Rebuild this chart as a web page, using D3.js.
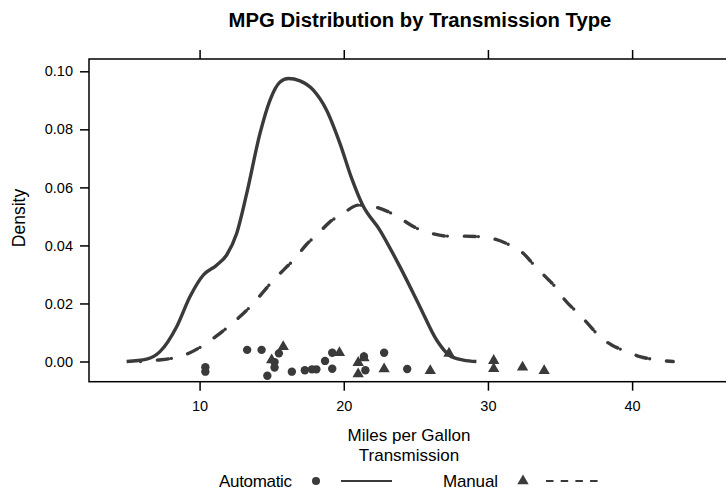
<!DOCTYPE html>
<html>
<head>
<meta charset="utf-8">
<script src="https://cdn.jsdelivr.net/npm/d3@7"></script>
<style>
  body { margin: 0; background: #fff; }
  text { font-family: "Liberation Sans", Arial, sans-serif; }
</style>
</head>
<body>
<svg id="chart" width="726" height="490"></svg>
<script>
// mpg values, as plotted under the curves
let autoMpg   = [21.4, 18.7, 18.1, 14.3, 24.4, 22.8, 19.2, 17.8, 16.4, 17.3, 15.2, 10.4, 10.4, 14.7, 21.5, 15.5, 15.2, 13.3, 19.2];
let autoJit   = [0.0017, 0.0002, -0.0027, 0.0040, -0.0026, 0.0030, 0.0030, -0.0027, -0.0035, -0.0030, -0.0002, -0.0020, -0.0035, -0.0049, -0.0030, 0.0028, -0.0021, 0.0040, -0.0025];
let manualMpg = [21.0, 21.0, 22.8, 32.4, 30.4, 33.9, 27.3, 26.0, 30.4, 15.8, 19.7, 15.0, 21.4];
let manualJit = [-0.0004, -0.0043, -0.0026, -0.0020, 0.0003, -0.0032, 0.0028, -0.0032, -0.0025, 0.0051, 0.0030, 0.0005, 0.0012];

// density curves
let autoCurveX = [4.94, 6.33, 7.25, 8.41, 9.33, 10.26, 11.18, 11.88, 12.57, 13.27, 14.19, 14.88, 15.58, 16.15, 16.96, 17.89, 18.81, 19.74, 20.55, 21.3, 22.5, 23.9, 25.28, 26.44, 27.36, 28.3, 29.2];
let autoCurveY = [0.0, 0.0008, 0.0034, 0.012, 0.0223, 0.0298, 0.0332, 0.0367, 0.0441, 0.0579, 0.0786, 0.090, 0.0963, 0.0975, 0.0967, 0.0935, 0.0866, 0.0751, 0.0631, 0.054, 0.0453, 0.0326, 0.0189, 0.0074, 0.0020, 0.0005, 0.0];
let manualCurveX = [5.9, 7.1, 8.07, 9.33, 10.2, 11.18, 11.99, 12.92, 13.61, 14.42, 15.11, 15.92, 16.62, 17.43, 18.23, 19.04, 19.96, 21.0, 21.93, 23.09, 24.01, 25.06, 25.98, 27.25, 28.17, 29.45, 30.37, 31.53, 32.34, 33.26, 33.95, 34.76, 35.34, 36.26, 36.96, 37.77, 38.58, 39.62, 40.54, 41.81, 42.85];
let manualCurveY = [0.0, 0.0005, 0.0011, 0.003, 0.0054, 0.0088, 0.012, 0.016, 0.0194, 0.024, 0.028, 0.032, 0.0355, 0.0404, 0.0441, 0.0481, 0.051, 0.0539, 0.0535, 0.0516, 0.049, 0.0459, 0.0443, 0.0432, 0.0432, 0.0430, 0.0423, 0.0401, 0.0378, 0.0329, 0.0294, 0.0252, 0.0212, 0.0166, 0.0129, 0.0085, 0.0057, 0.0034, 0.0017, 0.0005, 0.0];

let xTicks = [10, 20, 30, 40];
let yTicks = [0.00, 0.02, 0.04, 0.06, 0.08, 0.10];
let groups = ['Automatic', 'Manual'];

let ink = '#3a3a3a';
let svg = d3.select('#chart');

let pLeft = 89, pRight = 729, pTop = 59, pBottom = 381.7;
let x = d3.scaleLinear().domain([2.33, 46.72]).range([pLeft, pRight]);
let y = d3.scaleLinear().domain([0, 0.10]).range([361.5, 71.3]);

// title
svg.append('text')
    .attr('x', 420).attr('y', 27)
    .attr('text-anchor', 'middle')
    .attr('font-size', 20.3)
    .attr('font-weight', 'bold')
    .text('MPG Distribution by Transmission Type');

// axes
let bottomAxis = svg.append('g')
    .attr('transform', 'translate(0,' + pBottom + ')')
    .call(d3.axisBottom(x).tickValues(xTicks).tickSize(9).tickPadding(10).tickSizeOuter(0));
let topAxis = svg.append('g')
    .attr('transform', 'translate(0,' + pTop + ')')
    .call(d3.axisTop(x).tickValues(xTicks).tickSize(9).tickFormat('').tickSizeOuter(0));
let leftAxis = svg.append('g')
    .attr('transform', 'translate(' + pLeft + ',0)')
    .call(d3.axisLeft(y).tickValues(yTicks).tickFormat(d3.format('.2f')).tickSize(9).tickPadding(7).tickSizeOuter(0));

[bottomAxis, topAxis, leftAxis].forEach((g) => {
    g.select('.domain').remove();
    g.selectAll('line').attr('stroke', '#000').attr('stroke-width', 1.5);
    g.selectAll('text')
        .attr('font-size', 14.5)
        .attr('fill', '#000')
        .style('font-family', '"Liberation Sans", Arial, sans-serif');
});

svg.append('rect')
    .attr('x', pLeft).attr('y', pTop)
    .attr('width', pRight - pLeft).attr('height', pBottom - pTop)
    .attr('fill', 'none')
    .attr('stroke', '#000')
    .attr('stroke-width', 1.5);

// axis labels
svg.append('text')
    .attr('transform', 'translate(25,218) rotate(-90)')
    .attr('text-anchor', 'middle')
    .attr('font-size', 17.5)
    .text('Density');
svg.append('text')
    .attr('x', 409).attr('y', 441)
    .attr('text-anchor', 'middle')
    .attr('font-size', 17)
    .text('Miles per Gallon');
svg.append('text')
    .attr('x', 409).attr('y', 461)
    .attr('text-anchor', 'middle')
    .attr('font-size', 17)
    .text('Transmission');

// curves
let line = d3.line()
    .x((d) => { return x(d[0]); })
    .y((d) => { return y(d[1]); })
    .curve(d3.curveMonotoneX);

let plot = svg.append('g');
plot.append('path')
    .datum(d3.zip(autoCurveX, autoCurveY))
    .attr('d', line)
    .attr('fill', 'none')
    .attr('stroke', ink)
    .attr('stroke-width', 3.4);
plot.append('path')
    .datum(d3.zip(manualCurveX, manualCurveY))
    .attr('d', line)
    .attr('fill', 'none')
    .attr('stroke', ink)
    .attr('stroke-width', 3.4)
    .attr('stroke-linecap', 'round')
    .attr('stroke-dasharray', '0,17,11,3');

// points
plot.selectAll('circle.auto')
    .data(d3.zip(autoMpg, autoJit))
    .enter()
    .append('circle')
    .attr('class', 'auto')
    .attr('cx', (d) => { return x(d[0]); })
    .attr('cy', (d) => { return y(d[1]); })
    .attr('r', 4.2)
    .attr('fill', ink);

let tri = d3.symbol().type(d3.symbolTriangle).size(56);
plot.selectAll('path.manual')
    .data(d3.zip(manualMpg, manualJit))
    .enter()
    .append('path')
    .attr('class', 'manual')
    .attr('d', tri)
    .attr('transform', (d) => { return 'translate(' + x(d[0]) + ',' + y(d[1]) + ')'; })
    .attr('fill', ink);

// legend
let legend = svg.append('g').attr('transform', 'translate(0,481)');
let legendX = [219, 443];
groups.forEach((name, i) => {
    let g = legend.append('g').attr('transform', 'translate(' + legendX[i] + ',0)');
    g.append('text')
        .attr('x', 0).attr('y', 6)
        .attr('font-size', 17)
        .attr('textLength', i === 0 ? 73 : 55)
        .text(name);
    if (i === 0) {
        g.append('circle').attr('cx', 97).attr('cy', 0).attr('r', 4).attr('fill', ink);
    } else {
        g.append('path').attr('d', tri).attr('transform', 'translate(80,0)').attr('fill', ink);
    }
    g.append('line')
        .attr('x1', i === 0 ? 122 : 103).attr('x2', i === 0 ? 173 : 155)
        .attr('y1', 0).attr('y2', 0)
        .attr('stroke', ink)
        .attr('stroke-width', 1.8)
        .attr('stroke-dasharray', i === 0 ? null : '7.5,7.2');
});
</script>
</body>
</html>
